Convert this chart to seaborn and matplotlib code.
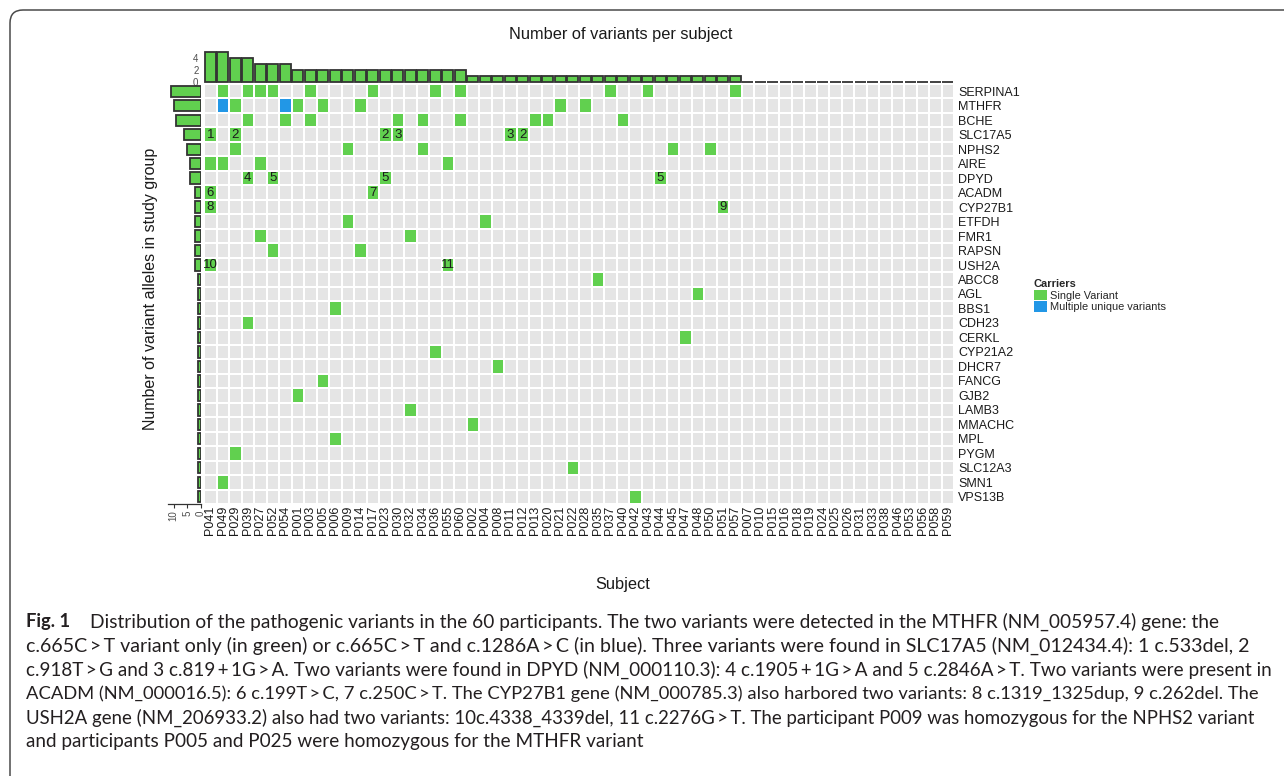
import numpy as np
import pandas as pd
import matplotlib
matplotlib.use("Agg")
import matplotlib.pyplot as plt
import seaborn as sns
from matplotlib.colors import ListedColormap
from matplotlib.patches import Patch, FancyBboxPatch

# ---------------- data ----------------
subjects = ["P041", "P049", "P029", "P039", "P027", "P052", "P054", "P001", "P003", "P005",
            "P006", "P009", "P014", "P017", "P023", "P030", "P032", "P034", "P036", "P055",
            "P060", "P002", "P004", "P008", "P011", "P012", "P013", "P020", "P021", "P022",
            "P028", "P035", "P037", "P040", "P042", "P043", "P044", "P045", "P047", "P048",
            "P050", "P051", "P057", "P007", "P010", "P015", "P016", "P018", "P019", "P024",
            "P025", "P026", "P031", "P033", "P038", "P046", "P053", "P056", "P058", "P059"]

genes = ["SERPINA1", "MTHFR", "BCHE", "SLC17A5", "NPHS2", "AIRE", "DPYD", "ACADM", "CYP27B1",
         "ETFDH", "FMR1", "RAPSN", "USH2A", "ABCC8", "AGL", "BBS1", "CDH23", "CERKL", "CYP21A2",
         "DHCR7", "FANCG", "GJB2", "LAMB3", "MMACHC", "MPL", "PYGM", "SLC12A3", "SMN1", "VPS13B"]

gene_carriers = [
    ["P049", "P039", "P027", "P052", "P003", "P017", "P036", "P060", "P037", "P043", "P057"],
    ["P049", "P029", "P054", "P001", "P005", "P014", "P021", "P028"],
    ["P039", "P054", "P003", "P030", "P034", "P060", "P013", "P020", "P040"],
    ["P041", "P029", "P023", "P030", "P011", "P012"],
    ["P029", "P009", "P034", "P045", "P050"],
    ["P041", "P049", "P027", "P055"],
    ["P039", "P052", "P023", "P044"],
    ["P041", "P017"],
    ["P041", "P051"],
    ["P009", "P004"],
    ["P027", "P032"],
    ["P052", "P014"],
    ["P041", "P055"],
    ["P035"], ["P048"], ["P006"], ["P039"], ["P047"], ["P036"], ["P008"], ["P005"],
    ["P001"], ["P032"], ["P002"], ["P006"], ["P029"], ["P022"], ["P049"], ["P042"],
]

multiple_variant_cells = [("MTHFR", "P049"), ("MTHFR", "P054")]

variant_labels = [("SLC17A5", "P041", "1"), ("SLC17A5", "P029", "2"), ("SLC17A5", "P023", "2"),
                  ("SLC17A5", "P030", "3"), ("SLC17A5", "P011", "3"), ("SLC17A5", "P012", "2"),
                  ("DPYD", "P039", "4"), ("DPYD", "P052", "5"), ("DPYD", "P023", "5"),
                  ("DPYD", "P044", "5"), ("ACADM", "P041", "6"), ("ACADM", "P017", "7"),
                  ("CYP27B1", "P041", "8"), ("CYP27B1", "P051", "9"),
                  ("USH2A", "P041", "10"), ("USH2A", "P055", "11")]

variants_per_subject = [5, 5, 4, 4, 3, 3, 3, 2, 2, 2, 2, 2, 2, 2, 2, 2, 2, 2, 2, 2,
                        2, 1, 1, 1, 1, 1, 1, 1, 1, 1, 1, 1, 1, 1, 1, 1, 1, 1, 1, 1,
                        1, 1, 1, 0, 0, 0, 0, 0, 0, 0, 0, 0, 0, 0, 0, 0, 0, 0, 0, 0]

alleles_per_gene = [11, 10, 9, 6, 5, 4, 4, 2, 2, 2, 2, 2, 2, 1, 1, 1, 1, 1, 1, 1,
                    1, 1, 1, 1, 1, 1, 1, 1, 1]

caption_lines = [
    "Distribution of the pathogenic variants in the 60 participants. The two variants were detected in the MTHFR (NM_005957.4) gene: the",
    "c.665C\u2009>\u2009T variant only (in green) or c.665C\u2009>\u2009T and c.1286A\u2009>\u2009C (in blue). Three variants were found in SLC17A5 (NM_012434.4): 1 c.533del, 2",
    "c.918T\u2009>\u2009G and 3 c.819\u2009+\u20091G\u2009>\u2009A. Two variants were found in DPYD (NM_000110.3): 4 c.1905\u2009+\u20091G\u2009>\u2009A and 5 c.2846A\u2009>\u2009T. Two variants were present in",
    "ACADM (NM_000016.5): 6 c.199T\u2009>\u2009C, 7 c.250C\u2009>\u2009T. The CYP27B1 gene (NM_000785.3) also harbored two variants: 8 c.1319_1325dup, 9 c.262del. The",
    "USH2A gene (NM_206933.2) also had two variants: 10c.4338_4339del, 11 c.2276G\u2009>\u2009T. The participant P009 was homozygous for the NPHS2 variant",
    "and participants P005 and P025 were homozygous for the MTHFR variant",
]

# ---------------- style ----------------
sns.set_style("white")
plt.rcParams["font.family"] = ["Liberation Sans", "DejaVu Sans"]

GREEN = "#61D04F"
BLUE = "#2297E6"
CELL = "#E5E5E5"
EDGE = "#333333"

W, H = 1284, 776
fig = plt.figure(figsize=(W / 100, H / 100), dpi=100)


def fx(px):
    return px / W


def fy(py):
    return 1 - py / H


# matrix
mat = pd.DataFrame(0, index=genes, columns=subjects)
for g, carriers in zip(genes, gene_carriers):
    for s in carriers:
        mat.loc[g, s] = 1
for g, s in multiple_variant_cells:
    mat.loc[g, s] = 2
annot = pd.DataFrame("", index=genes, columns=subjects)
for g, s, lab in variant_labels:
    annot.loc[g, s] = lab

gx0, gx1, gy0, gy1 = 204, 954, 84, 504

ax = fig.add_axes([fx(gx0), fy(gy1), (gx1 - gx0) / W, (gy1 - gy0) / H])
cmap = ListedColormap([CELL, GREEN, BLUE])
sns.heatmap(mat, ax=ax, cmap=cmap, vmin=-0.5, vmax=2.5, cbar=False,
            linewidths=1.4, linecolor="white", annot=annot.values, fmt="",
            annot_kws={"fontsize": 9.5, "color": "#1a1a1a"},
            xticklabels=True, yticklabels=True)
ax.yaxis.tick_right()
ax.tick_params(axis="y", length=0, pad=3, labelsize=9, labelcolor="#1a1a1a", rotation=0)
ax.tick_params(axis="x", length=0, pad=1.5, labelsize=9, labelcolor="#1a1a1a", rotation=90)
for t in ax.get_yticklabels():
    t.set_ha("left")
ax.set_xlabel("")
ax.set_ylabel("")

# top bar chart
ax_top = fig.add_axes([fx(gx0), fy(82), (gx1 - gx0) / W, 34 / H])
ax_top.bar(np.arange(len(subjects)) + 0.5, variants_per_subject, width=0.88,
           color=GREEN, edgecolor=EDGE, linewidth=1.3, clip_on=False)
ax_top.set_xlim(0, len(subjects))
ax_top.set_ylim(0, 34 / 6.0)
ax_top.set_yticks([0, 2, 4])
ax_top.set_xticks([])
ax_top.tick_params(axis="y", length=0, pad=4, labelsize=7, labelcolor="#4D4D4D")
for sp in ax_top.spines.values():
    sp.set_visible(False)
ax_top.patch.set_alpha(0)

# left bar chart
lx0 = 168
zero_px = 200.5
ppu = 2.67
ax_left = fig.add_axes([fx(lx0), fy(gy1), (gx0 - 3 - lx0) / W, (gy1 - gy0) / H])
ax_left.barh(np.arange(len(genes)) + 0.5, alleles_per_gene, height=0.78,
             color=GREEN, edgecolor=EDGE, linewidth=1.3)
ax_left.set_ylim(len(genes), 0)
ax_left.set_xlim((zero_px - lx0) / ppu, -(gx0 - 3 - zero_px) / ppu)
ax_left.set_xticks([0, 5, 10])
ax_left.set_yticks([])
ax_left.tick_params(axis="x", length=3, width=0.8, color=EDGE, pad=1.5, labelsize=7,
                    labelcolor="#4D4D4D", rotation=90, bottom=True)
for k, sp in ax_left.spines.items():
    sp.set_visible(k == "bottom")
ax_left.spines["bottom"].set_color(EDGE)
ax_left.spines["bottom"].set_linewidth(0.9)
ax_left.patch.set_alpha(0)

# titles
fig.text(fx(621), fy(35), "Number of variants per subject", ha="center", va="center",
         fontsize=11.8, color="#1a1a1a")
fig.text(fx(623), fy(584), "Subject", ha="center", va="center", fontsize=11.8, color="#1a1a1a")
fig.text(fx(150), fy(289), "Number of variant alleles in study group", rotation=90,
         ha="center", va="center", fontsize=11.5, color="#1a1a1a")

# legend
handles = [Patch(facecolor=GREEN, edgecolor="none", label="Single Variant"),
           Patch(facecolor=BLUE, edgecolor="none", label="Multiple unique variants")]
leg = fig.legend(handles=handles, title="Carriers", loc="upper left",
                 bbox_to_anchor=(fx(1026), fy(271)), frameon=False, fontsize=7.9,
                 title_fontproperties={"weight": "bold", "size": 7.9},
                 handlelength=1.2, handleheight=1.1, handletextpad=0.3,
                 labelspacing=0.08, borderpad=0.2, alignment="left")

# border
box = FancyBboxPatch((0.10, -1.0), 14.0, 7.66 + 1.0, boxstyle="round,pad=0,rounding_size=0.13",
                     transform=fig.dpi_scale_trans, facecolor="none", edgecolor="#4a4a4a",
                     linewidth=1.1)
fig.patches.append(box)

# caption
cap_family = ["Lato", "DejaVu Sans"]
renderer = fig.canvas.get_renderer()
line_y = [622, 646, 670, 694, 718, 742]
line_x0 = [90, 26, 26, 26, 26, 26]
line_x1 = [1214, 1244, 1265, 1256, 1249, None]
t_fig = fig.text(fx(26), fy(line_y[0]), "Fig. 1", ha="left", va="center", fontsize=12,
                 fontweight="bold", family=cap_family, color="#231f20")
sizes = []
for i, line in enumerate(caption_lines):
    t = fig.text(fx(line_x0[i]), fy(line_y[i]), line, ha="left", va="center", fontsize=12,
                 family=cap_family, color="#231f20")
    if line_x1[i] is not None:
        w = t.get_window_extent(renderer).width
        fs = 12 * (line_x1[i] - line_x0[i]) / w
        sizes.append(fs)
    else:
        fs = float(np.mean(sizes))
    t.set_fontsize(fs)
wf = t_fig.get_window_extent(renderer).width
t_fig.set_fontsize(12 * (70 - 26) / wf)

fig.savefig("out.png", dpi=100)
